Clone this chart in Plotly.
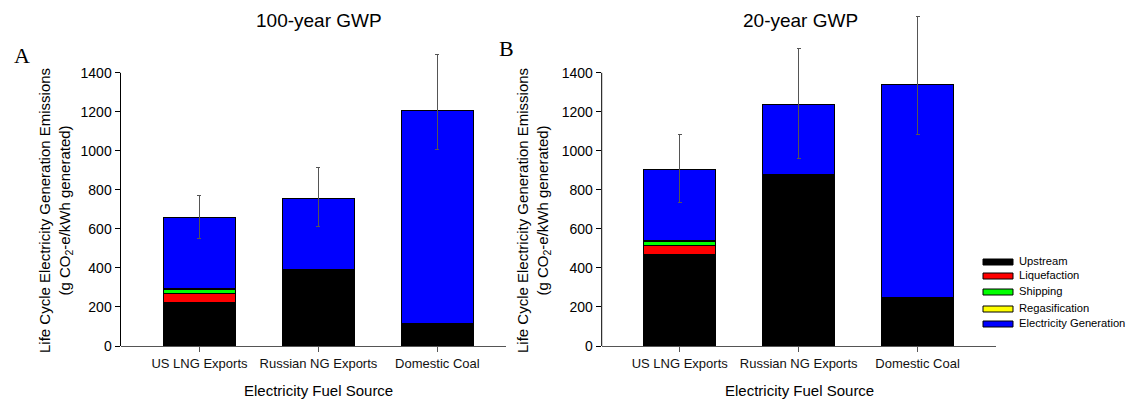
import plotly.graph_objects as go

# ---------------- data ----------------
categories = ["US LNG Exports", "Russian NG Exports", "Domestic Coal"]
series_names = ["Upstream", "Liquefaction", "Shipping", "Regasification", "Electricity Generation"]
series_colors = ["#000000", "#FF0000", "#00FF00", "#FFFF00", "#0000FF"]

# 100-year GWP (panel A)
upstream_100 = [225, 393, 116]
liquefaction_100 = [45, None, None]
shipping_100 = [20, None, None]
regas_100 = [5, None, None]
electricity_100 = [365, 361, 1091]
err_plus_100 = [109, 159, 289]
err_minus_100 = [108, 142, 198]

# 20-year GWP (panel B)
upstream_20 = [470, 877, 250]
liquefaction_20 = [46, None, None]
shipping_20 = [18, None, None]
regas_20 = [5, None, None]
electricity_20 = [366, 361, 1088]
err_plus_20 = [179, 285, 349]
err_minus_20 = [169, 278, 252]

y_ticks = [0, 200, 400, 600, 800, 1000, 1200, 1400]

panel_titles = ["100-year GWP", "20-year GWP"]
panel_letters = ["A", "B"]
y_title = "Life Cycle Electricity Generation Emissions<br>(g CO<sub>2</sub>-e/kWh generated)"
x_title = "Electricity Fuel Source"

# ---------------- layout helpers ----------------
OFF = 8                      # page body margin
W, H = 1136 - OFF, 400 - OFF
PLOT_BOTTOM = 346 - OFF      # figure pixel row of the x axis


def px(x):
    return (x - OFF) / W


def py(y):
    return (PLOT_BOTTOM - (y - OFF)) / PLOT_BOTTOM


SANS = "Liberation Sans, Arial, sans-serif"
SERIF = "Liberation Serif, Times New Roman, serif"

fig = go.Figure()

panels = [
    ("x", "y", [upstream_100, liquefaction_100, shipping_100, regas_100, electricity_100],
     err_plus_100, err_minus_100),
    ("x2", "y2", [upstream_20, liquefaction_20, shipping_20, regas_20, electricity_20],
     err_plus_20, err_minus_20),
]

for xa, ya, stacks, ep, em in panels:
    for i, (name, color, vals) in enumerate(zip(series_names, series_colors, stacks)):
        is_top = i == len(stacks) - 1
        fig.add_trace(go.Bar(
            x=categories, y=vals, name=name, xaxis=xa, yaxis=ya,
            marker=dict(color=color, line=dict(color="#000000", width=1)),
            showlegend=False,
            error_y=dict(type="data", symmetric=False, array=ep, arrayminus=em,
                         color="#555555", thickness=1, width=2, visible=True) if is_top else None,
        ))

YMAX = PLOT_BOTTOM / (273.2 / 1400)

common_y = dict(range=[0, YMAX], tickvals=y_ticks, ticks="outside", ticklen=5,
                tickcolor="#000000", showline=False, showgrid=False, zeroline=False,
                tickfont=dict(family=SANS, size=14, color="#000000"))
common_x = dict(type="category", showline=True, linecolor="#555555", linewidth=1,
                ticks="outside", ticklen=5, tickcolor="#555555", showgrid=False,
                zeroline=False, tickfont=dict(family=SANS, size=13, color="#111111"))

fig.update_layout(
    width=W, height=H,
    margin=dict(l=0, r=0, t=0, b=H - PLOT_BOTTOM),
    paper_bgcolor="white", plot_bgcolor="white",
    barmode="stack", bargap=0.395,
    showlegend=False,
    xaxis=dict(domain=[px(120.5), px(506)], range=[-0.664, 2.577], anchor="y", **common_x),
    xaxis2=dict(domain=[px(601.7), px(995.7)], range=[-0.656, 2.657], anchor="y2", **common_x),
    yaxis=dict(domain=[0, 1], anchor="x", **common_y),
    yaxis2=dict(domain=[0, 1], anchor="x2", **common_y),
)

shapes = []
# y-axis lines only up to 1400
for xa, ya in [("x", "y"), ("x2", "y2")]:
    shapes.append(dict(type="line", xref=f"{xa} domain", yref=ya, x0=0, x1=0, y0=0, y1=1400,
                       line=dict(color="#000000", width=1)))

# legend (manual)
legend_rows = [262, 276, 292, 309, 324]
for name, color, yc in zip(series_names, series_colors, legend_rows):
    shapes.append(dict(type="rect", xref="paper", yref="paper",
                       x0=px(983), x1=px(1013), y0=py(yc + 3), y1=py(yc - 3),
                       fillcolor=color, line=dict(color="#000000", width=1)))
fig.update_layout(shapes=shapes)

annotations = []
# panel titles
for title, xc in zip(panel_titles, [319, 800]):
    annotations.append(dict(text=title, xref="paper", yref="paper", x=px(xc), y=py(21),
                            xanchor="center", yanchor="middle", showarrow=False,
                            font=dict(family=SANS, size=19, color="#000000")))
# panel letters
for letter, (xc, yc) in zip(panel_letters, [(22, 55), (506, 49)]):
    annotations.append(dict(text=letter, xref="paper", yref="paper", x=px(xc), y=py(yc),
                            xanchor="center", yanchor="middle", showarrow=False,
                            font=dict(family=SERIF, size=22, color="#000000")))
# y titles
for xc in [55, 533]:
    annotations.append(dict(text=y_title, xref="paper", yref="paper", x=px(xc), y=py(211),
                            xanchor="center", yanchor="middle", showarrow=False, textangle=-90,
                            font=dict(family=SANS, size=15, color="#000000")))
# x titles
for xc in [318, 799]:
    annotations.append(dict(text=x_title, xref="paper", yref="paper", x=px(xc), y=py(390),
                            xanchor="center", yanchor="middle", showarrow=False,
                            font=dict(family=SANS, size=15, color="#000000")))
# legend labels
for name, yc in zip(series_names, legend_rows):
    annotations.append(dict(text=name, xref="paper", yref="paper", x=px(1017), y=py(yc - 1),
                            xanchor="left", yanchor="middle", showarrow=False,
                            font=dict(family=SANS, size=11.2, color="#000000")))
fig.update_layout(annotations=annotations)

fig.write_html("out.html")
